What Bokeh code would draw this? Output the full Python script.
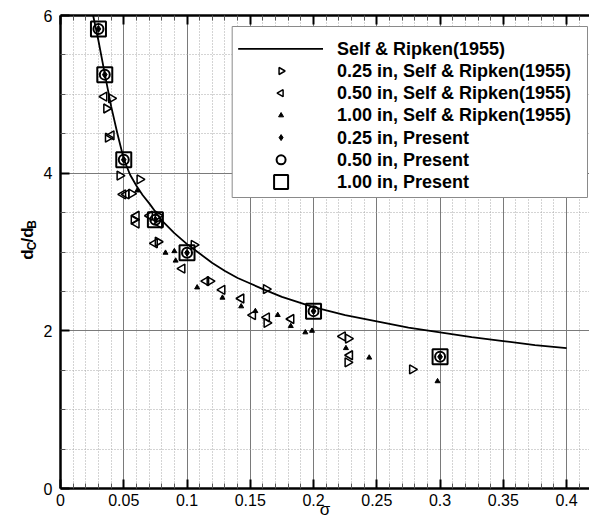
import math
from bokeh.plotting import figure
from bokeh.layouts import row
from bokeh.models import (FixedTicker, NumeralTickFormatter, LinearAxis,
                          Range1d, CustomJSTickFormatter)
from bokeh.core.properties import value
from bokeh.embed import file_html
from bokeh.resources import INLINE

# ---------------- data ----------------
curve_sigma = [0.0258, 0.030, 0.035, 0.040, 0.045, 0.050, 0.055, 0.060, 0.065, 0.070,
               0.075, 0.080, 0.090, 0.100, 0.110, 0.120, 0.130, 0.140, 0.150, 0.160,
               0.175, 0.200, 0.225, 0.250, 0.275, 0.300, 0.325, 0.350, 0.375, 0.400]
curve_ratio = [6.00, 5.68, 5.26, 4.85, 4.50, 4.18, 3.98, 3.84, 3.72, 3.62,
               3.51, 3.40, 3.24, 3.10, 2.98, 2.86, 2.76, 2.67, 2.60, 2.53,
               2.43, 2.30, 2.20, 2.12, 2.04, 1.98, 1.92, 1.87, 1.82, 1.78]

sr025_sigma = [0.0402, 0.0363, 0.0376, 0.0468, 0.0626, 0.056, 0.058, 0.077, 0.077,
               0.1054, 0.118, 0.1625, 0.163, 0.2274, 0.227, 0.278]
sr025_ratio = [4.95, 4.82, 4.45, 3.97, 3.92, 3.74, 3.41, 3.46, 3.13,
               3.09, 2.63, 2.53, 2.10, 1.90, 1.60, 1.51]

sr050_sigma = [0.0345, 0.0402, 0.0494, 0.052, 0.060, 0.060, 0.0705, 0.078, 0.0744,
               0.0962, 0.115, 0.1278, 0.1428, 0.152, 0.163, 0.1823, 0.223, 0.2287]
sr050_ratio = [4.97, 4.48, 3.73, 3.73, 3.46, 3.36, 3.46, 3.36, 3.11,
               2.79, 2.63, 2.52, 2.41, 2.20, 2.17, 2.15, 1.93, 1.69]

sr100_sigma = [0.0607, 0.083, 0.090, 0.091, 0.108, 0.128, 0.1428, 0.154, 0.1717,
               0.182, 0.1935, 0.1988, 0.2256, 0.244, 0.298]
sr100_ratio = [3.78, 2.99, 3.01, 2.89, 2.55, 2.42, 2.31, 2.25, 2.20,
               2.06, 1.98, 2.00, 1.78, 1.66, 1.36]

present_sigma = [0.03, 0.035, 0.05, 0.075, 0.10, 0.20, 0.30]
present_ratio = [5.83, 5.25, 4.17, 3.41, 2.99, 2.25, 1.67]

x_major = [0, 0.05, 0.1, 0.15, 0.2, 0.25, 0.3, 0.35, 0.4]
x_minor = [round(i * 0.01, 2) for i in range(0, 42) if i % 5 != 0]
y_major = [0, 2, 4, 6]
y_minor = [0.5, 1, 1.5, 2.5, 3, 3.5, 4.5, 5, 5.5]

legend_labels = ["Self & Ripken(1955)", "0.25 in, Self & Ripken(1955)",
                 "0.50 in, Self & Ripken(1955)", "1.00 in, Self & Ripken(1955)",
                 "0.25 in, Present", "0.50 in, Present", "1.00 in, Present"]

# ---------------- layout ----------------
W, H = 589, 525
LW = 40                      # width of the strip holding the y-axis title
FL = 59                      # frame left (page px)
T, B = 15, 37
X_END = 0.4181
FONT = "Liberation Sans"

p = figure(width=W - LW, height=H, x_range=Range1d(0, X_END), y_range=Range1d(0, 6),
           output_backend="svg", toolbar_location=None,
           min_border_left=FL - LW, min_border_right=0, min_border_top=T,
           min_border_bottom=B, background_fill_color="white",
           border_fill_color="white")
p.outline_line_color = None

fw = W - FL
fh = H - T - B
def px2x(px):
    return (px - FL) / fw * X_END
def py2y(py):
    return (T + fh - py) / fh * 6

xt = FixedTicker(ticks=x_major, minor_ticks=x_minor)
yt = FixedTicker(ticks=y_major, minor_ticks=y_minor)

def style_axis(ax):
    ax.axis_line_width = 2.5
    ax.axis_line_color = "black"
    ax.major_tick_in = 9
    ax.major_tick_out = 0
    ax.minor_tick_in = 5
    ax.minor_tick_out = 0
    ax.major_tick_line_width = 2
    ax.major_tick_line_color = "black"
    ax.minor_tick_line_color = "#555555"
    ax.minor_tick_line_width = 1
    ax.major_label_text_font = FONT
    ax.major_label_text_font_size = "16px"
    ax.major_label_text_color = "black"
    ax.major_label_standoff = 5

xa = p.xaxis[0]
xa.ticker = xt
xa.formatter = NumeralTickFormatter(format="0.[00]")
style_axis(xa)
xa.axis_label = "σ"
xa.axis_label_text_font = FONT
xa.axis_label_text_font_size = "17px"
xa.axis_label_text_font_style = "normal"
xa.axis_label_text_color = "black"
xa.axis_label_standoff = -9

ya = p.yaxis[0]
ya.ticker = yt
style_axis(ya)
ya.major_label_standoff = 8

top = LinearAxis(ticker=FixedTicker(ticks=x_major, minor_ticks=x_minor),
                 formatter=CustomJSTickFormatter(code="return ''"))
style_axis(top)
top.major_label_standoff = 0
p.add_layout(top, "above")

for g in (p.xgrid[0], p.ygrid[0]):
    g.grid_line_color = "#7a7a7a"
    g.grid_line_width = 1
    g.minor_grid_line_color = "#a8a8a8"
    g.minor_grid_line_dash = "1 2"
    g.minor_grid_line_width = 1
p.xgrid[0].ticker = xt
p.ygrid[0].ticker = yt

# ---------------- data marks ----------------
p.line(curve_sigma, curve_ratio, line_color="black", line_width=1.8)
m025 = dict(marker="triangle", angle=-math.pi / 2, fill_color=None,
            line_color="black", line_width=1.5)
m050 = dict(marker="triangle", angle=math.pi / 2, fill_color=None,
            line_color="black", line_width=1.5)
m100 = dict(marker="triangle", fill_color="black", line_color="black", line_width=1)
mp025 = dict(marker="diamond", fill_color="black", line_color="black", line_width=1)
mp050 = dict(marker="circle", fill_color=None, line_color="black", line_width=2)
mp100 = dict(marker="square", fill_color=None, line_color="black", line_width=2)

p.scatter(sr025_sigma, sr025_ratio, size=9, **m025)
p.scatter(sr050_sigma, sr050_ratio, size=9, **m050)
p.scatter(sr100_sigma, sr100_ratio, size=5, **m100)
p.scatter(present_sigma, present_ratio, size=15, **mp100)
p.scatter(present_sigma, present_ratio, size=10, **mp050)
p.scatter(present_sigma, present_ratio, size=7, **mp025)

# ---------------- legend (drawn by hand so rotated markers show) ----------------
lx0, lx1, ly0, ly1 = 231, 587, 26, 197
p.quad(left=[px2x(lx0)], right=[px2x(lx1)], top=[py2y(ly0)], bottom=[py2y(ly1)],
       fill_color="white", line_color="#8a8a8a", line_width=1)
row_py = [48.3 + 22.2 * i for i in range(len(legend_labels))]
mx = px2x(280)
p.line([px2x(237), px2x(322)], [py2y(row_py[0])] * 2, line_color="black", line_width=1.8)
p.scatter([mx], [py2y(row_py[1])], size=7, **m025)
p.scatter([mx], [py2y(row_py[2])], size=7, **m050)
p.scatter([mx], [py2y(row_py[3])], size=5, **m100)
p.scatter([mx], [py2y(row_py[4])], size=6, **mp025)
p.scatter([mx], [py2y(row_py[5])], size=9, **mp050)
p.scatter([mx], [py2y(row_py[6])], size=14, **mp100)
p.text(x=[px2x(336)] * len(legend_labels), y=[py2y(v) for v in row_py],
       text=legend_labels, text_font=value(FONT), text_font_style="bold",
       text_font_size=value("18px"), text_baseline="middle", text_align="left",
       text_color="black")

# ---------------- y-axis title strip: d_C/d_B ----------------
t = figure(width=LW, height=H, x_range=Range1d(0, LW), y_range=Range1d(0, H),
           output_backend="svg", toolbar_location=None, min_border=0,
           background_fill_color="white", border_fill_color="white")
t.axis.visible = False
t.grid.visible = False
t.outline_line_color = None
base_px, sub_px = 27, 31
start_py = 271
pieces = [("d", "17px", 0.0, False), ("C", "12px", 10.4, True),
          ("/d", "17px", 19.1, False), ("B", "12px", 34.2, True)]
for txt, fs, off, sub in pieces:
    t.text(x=[sub_px if sub else base_px], y=[H - (start_py - off)], text=[txt],
           angle=math.pi / 2, text_font=value(FONT), text_font_style="bold",
           text_font_size=value(fs), text_align="left", text_baseline="alphabetic",
           text_color="black")

layout = row(t, p, spacing=0)
open("out.html", "w").write(file_html(layout, INLINE))
